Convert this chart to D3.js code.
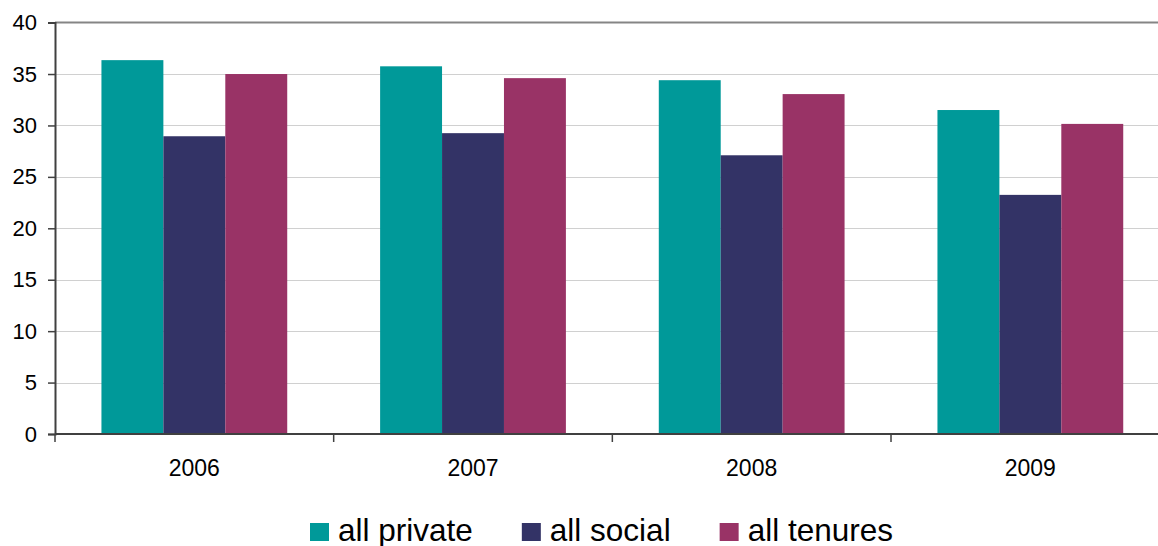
<!DOCTYPE html>
<html>
<head>
<meta charset="utf-8">
<script src="https://cdn.jsdelivr.net/npm/d3@7"></script>
<style>
  html, body { margin: 0; padding: 0; background: #fff; }
  svg { display: block; font-family: Arial, "Liberation Sans", sans-serif; }
</style>
</head>
<body>
<svg id="chart" width="1158" height="546"></svg>
<script>
const years = ["2006", "2007", "2008", "2009"];
const seriesNames = ["all private", "all social", "all tenures"];
const allPrivate = [36.35, 35.75, 34.4, 31.5];
const allSocial = [28.95, 29.25, 27.1, 23.25];
const allTenures = [35.0, 34.6, 33.05, 30.15];
const yTicks = [0, 5, 10, 15, 20, 25, 30, 35, 40];
const colors = ["#009999", "#333366", "#993366"];

const seriesValues = [allPrivate, allSocial, allTenures];
const svg = d3.select("#chart");

const x0 = 55, bandW = 278.67;
const x = d3.scaleBand().domain(years).range([x0, x0 + bandW * years.length]).padding(0);
const bw = x.bandwidth();
const barW = bw / 4.5;
const xs = d3.scaleBand().domain(seriesNames).range([barW * 0.75, bw - barW * 0.75]).padding(0);
const y = d3.scaleLinear().domain([0, 40]).range([434, 22.6]);

// gridlines
svg.append("g").selectAll("line").data(yTicks.filter(t => t > 0 && t < 40)).join("line")
  .attr("x1", x0).attr("x2", 1158)
  .attr("y1", d => Math.round(y(d)) + 0.5).attr("y2", d => Math.round(y(d)) + 0.5)
  .attr("stroke", "#d0d0d0").attr("stroke-width", 1);

// top border
svg.append("line").attr("x1", x0).attr("x2", 1158)
  .attr("y1", y(40)).attr("y2", y(40))
  .attr("stroke", "#858585").attr("stroke-width", 2);

// bars
const groups = svg.append("g").selectAll("g").data(years).join("g")
  .attr("transform", d => `translate(${x(d)},0)`);
groups.selectAll("rect").data((d, i) => seriesNames.map((s, j) => ({ s, j, v: seriesValues[j][i] })))
  .join("rect")
  .attr("x", d => xs(d.s)).attr("width", xs.bandwidth())
  .attr("y", d => y(d.v)).attr("height", d => y(0) - y(d.v))
  .attr("fill", d => colors[d.j]);

// y axis
const yAxis = d3.axisLeft(y).tickValues(yTicks).tickSize(7).tickPadding(11).tickFormat(d3.format("d"));
const gy = svg.append("g").attr("transform", `translate(${x0},0)`).call(yAxis);
gy.select(".domain").attr("stroke", "#404040").attr("stroke-width", 2);
gy.selectAll(".tick line").attr("stroke", "#404040").attr("stroke-width", 1.5);
gy.selectAll(".tick text").attr("font-size", 22).attr("fill", "#000")
  .attr("font-family", "Arial, 'Liberation Sans', sans-serif");

// x axis
const gx = svg.append("g").attr("transform", `translate(0,${y(0)})`);
gx.append("line").attr("x1", x0).attr("x2", 1158).attr("y1", 0).attr("y2", 0)
  .attr("stroke", "#404040").attr("stroke-width", 2);
gx.selectAll("line.tk").data(years.concat(["end"])).join("line").attr("class", "tk")
  .attr("x1", (d, i) => x0 + i * bw).attr("x2", (d, i) => x0 + i * bw)
  .attr("y1", 0).attr("y2", 8).attr("stroke", "#404040").attr("stroke-width", 1.5);
gx.selectAll("text").data(years).join("text")
  .attr("x", d => x(d) + bw / 2).attr("y", 42)
  .attr("text-anchor", "middle").attr("font-size", 23).attr("fill", "#000")
  .text(d => d);

// legend
const leg = svg.append("g");
let cx = 310;
seriesNames.forEach((s, i) => {
  leg.append("rect").attr("x", cx).attr("y", 523).attr("width", 19).attr("height", 18).attr("fill", colors[i]);
  const t = leg.append("text").attr("x", cx + 28).attr("y", 541)
    .attr("font-size", 31.5).attr("fill", "#000").text(s);
  cx = cx + 28 + t.node().getComputedTextLength() + 49;
});
</script>
</body>
</html>
